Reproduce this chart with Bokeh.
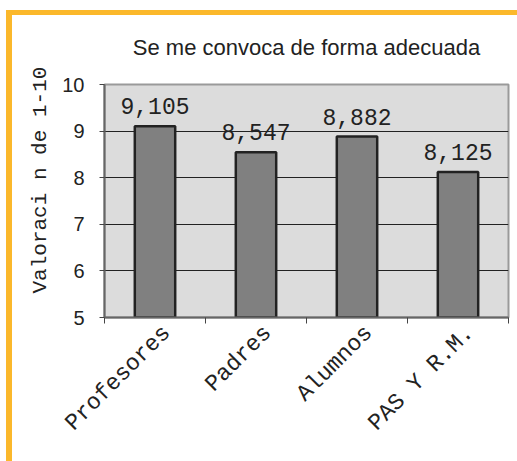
from math import pi
from bokeh.plotting import figure
from bokeh.models import ColumnDataSource, FixedTicker, Title, Range1d
from bokeh.core.properties import value
from bokeh.embed import file_html
from bokeh.resources import INLINE

categories = ["Profesores", "Padres", "Alumnos", "PAS Y R.M."]
values = [9.105, 8.547, 8.882, 8.125]
value_labels = ["9,105", "8,547", "8,882", "8,125"]
y_ticks = [5, 6, 7, 8, 9, 10]
title_text = "Se me convoca de forma adecuada"
y_label = "Valoraci n de 1-10"

xs = [i + 0.5 for i in range(len(categories))]
label_shift = 0.12
label_ticks = [x + label_shift for x in xs]
src = ColumnDataSource(dict(x=xs, top=values, lab=value_labels))

p = figure(width=517, height=461, output_backend="svg", toolbar_location=None,
           x_range=Range1d(0, len(categories)), y_range=Range1d(5, 10),
           min_border_left=104, min_border_right=9, min_border_top=84, min_border_bottom=144)
orange = "#FBB82B"
p.styles = {
    "background": (f"linear-gradient({orange},{orange}) 6px 10px / 6px 451px no-repeat, "
                   f"linear-gradient({orange},{orange}) 6px 10px / 511px 5px no-repeat, white"),
}

p.background_fill_color = "#dcdcdc"
p.border_fill_color = None
p.outline_line_color = "#9a9a9a"
p.outline_line_width = 2

p.title = Title(text=title_text, align="center", vertical_align="bottom",
                text_font="Liberation Sans",
                text_font_size="22px", text_font_style="normal", text_color="#222222",
                standoff=49)

p.vbar(x="x", top="top", bottom=5, width=0.4, source=src,
       fill_color="#808080", line_color="#222222", line_width=2.5)
p.text(x="x", y="top", text="lab", source=src, text_align="center",
       text_baseline="alphabetic", y_offset=-20, text_font=value("Liberation Mono"),
       text_font_size="23px", text_color="#222222")

p.xgrid.visible = False
p.ygrid.ticker = FixedTicker(ticks=y_ticks)
p.ygrid.grid_line_color = "#222222"
p.ygrid.grid_line_width = 1

xa = p.xaxis[0]
xa.ticker = FixedTicker(ticks=label_ticks, minor_ticks=list(range(len(categories) + 1)))
xa.major_label_overrides = {x: c for x, c in zip(label_ticks, categories)}
xa.major_label_orientation = pi / 4
xa.major_tick_out = 0
xa.major_tick_in = 0
xa.minor_tick_out = 6
xa.minor_tick_in = 0
xa.minor_tick_line_color = "#444444"
xa.axis_line_color = "#666666"
xa.axis_line_width = 2
xa.major_label_text_font = "Liberation Mono"
xa.major_label_text_font_size = "23px"
xa.major_label_text_color = "#222222"
xa.major_label_standoff = 6

ya = p.yaxis[0]
ya.ticker = FixedTicker(ticks=y_ticks)
ya.major_tick_out = 5
ya.major_tick_in = 0
ya.minor_tick_out = 0
ya.major_tick_line_color = "#444444"
ya.axis_line_color = "#666666"
ya.axis_line_width = 2
ya.major_label_text_font = "Liberation Sans"
ya.major_label_text_font_size = "20px"
ya.major_label_text_color = "#222222"
ya.major_label_standoff = 15

p.add_layout(Title(text=y_label, align="left", offset=24, text_font="Liberation Mono",
                   text_font_size="21px", text_font_style="normal", text_color="#222222",
                   standoff=15), "left")

open("out.html", "w").write(file_html(p, INLINE))
